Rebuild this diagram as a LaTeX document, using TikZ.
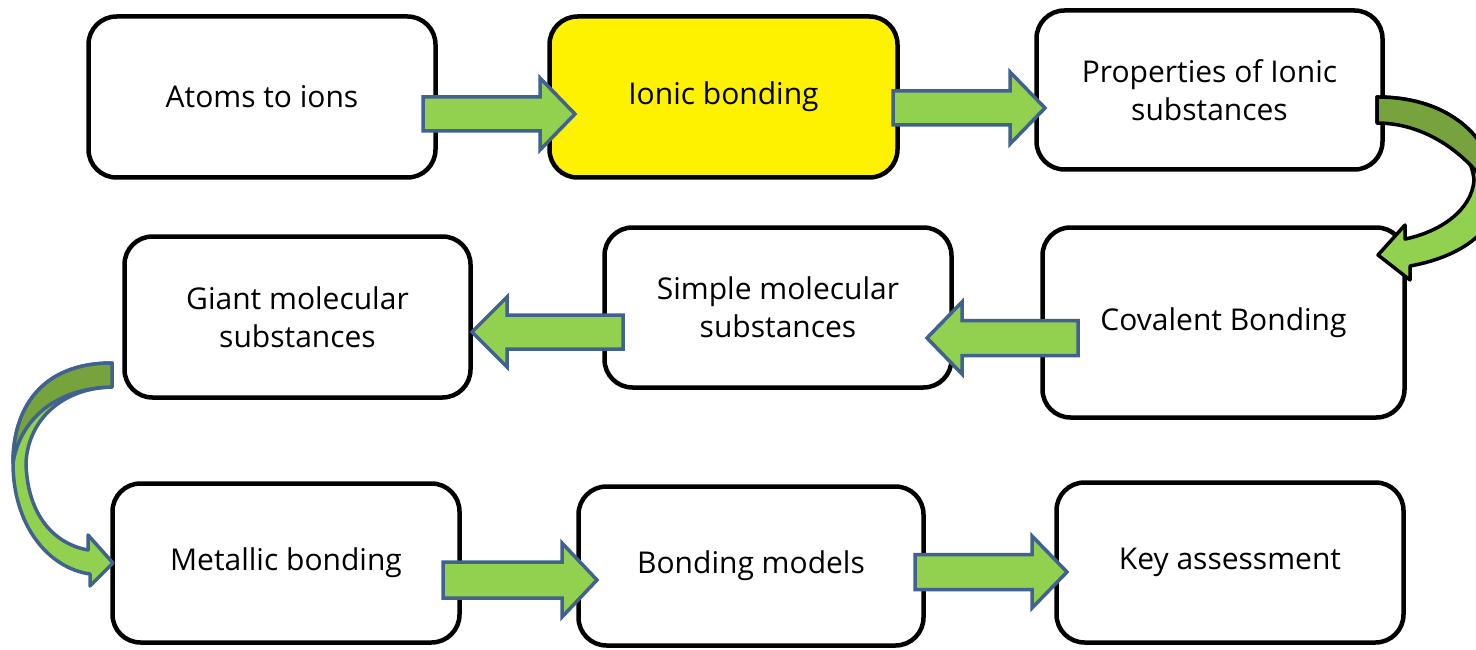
\documentclass[tikz,border=0pt]{standalone}
\usepackage{fontspec}
\setmainfont{Open Sans}
\definecolor{agreen}{HTML}{92D050}
\definecolor{dgreen}{HTML}{77A33F}
\definecolor{ablue}{HTML}{41618F}
\newcommand\blockarr[6]{\draw[barrow] (#1,#4-#5) -- (#2,#4-#5) -- (#2,#4-#6) -- (#3,#4) -- (#2,#4+#6) -- (#2,#4+#5) -- (#1,#4+#5) -- cycle;}
\begin{document}
\begin{tikzpicture}[x=1pt,y=-1pt,
 box/.style={draw=black, line width=4.5pt, rounded corners=28pt, fill=white, align=center,
   font=\fontsize{30}{38}\selectfont, inner sep=0pt},
 barrow/.style={draw=ablue, line width=3.5pt, fill=agreen, line join=miter},
 curvb/.style={draw=black, line width=3.5pt, line join=round},
 curvl/.style={draw=ablue, line width=3.5pt, line join=round}]
\useasboundingbox[fill=white] (0,0) rectangle (1476,650);
\node[box, minimum width=347pt, minimum height=161pt] (atoms) at (262,97) {Atoms to ions};
\node[box, fill=yellow, minimum width=348pt, minimum height=161pt] (ionic) at (723.5,97) {Ionic bonding};
\node[box, minimum width=346pt, minimum height=159pt] (props) at (1209.5,90) {Properties of Ionic\\substances};
\node[box, minimum width=362pt, minimum height=190pt] (coval) at (1223.5,322.5) {Covalent Bonding};
\node[box, minimum width=347pt, minimum height=160pt] (simple) at (778,307.5) {Simple molecular\\substances};
\node[box, minimum width=346pt, minimum height=161pt] (giant) at (297.5,317) {Giant molecular\\substances};
\node[box, minimum width=347pt, minimum height=159pt] (metal) at (286,563) {Metallic bonding};
\node[box, minimum width=345pt, minimum height=159pt] (models) at (751,566) {Bonding models};
\node[box, minimum width=347pt, minimum height=160pt] (key) at (1230,562.5) {Key assessment};
% straight block arrows
\blockarr{423}{540}{575}{114}{17}{36}
\blockarr{893}{1010}{1045}{108}{17}{36}
\blockarr{1078}{962}{927}{338}{17.5}{36}
\blockarr{623}{507}{472}{332}{17}{35}
\blockarr{443}{562}{597}{580}{18}{37}
\blockarr{915}{1032}{1067}{572}{17.5}{36}
% curved arrow right (props -> covalent)
\path[curvb, fill=agreen] (1377,97) .. controls (1460,97) and (1500,150) .. (1496,200)
  .. controls (1494,235) and (1455,258) .. (1410,266)
  -- (1410,280) -- (1378,255) -- (1405,225) -- (1405,239)
  .. controls (1440,232) and (1472,210) .. (1474,180)
  .. controls (1470,140) and (1430,123) .. (1377,123) -- cycle;
\path[curvb, fill=dgreen] (1377,97) .. controls (1460,97) and (1500,150) .. (1496,200)
  .. controls (1475,160) and (1430,123) .. (1377,123) -- cycle;
% curved arrow left (giant -> metallic)
\path[curvl, fill=agreen] (112,363) .. controls (40,363) and (13,410) .. (13,463)
  .. controls (13,525) and (48,568) .. (90,574)
  -- (90,586) -- (113,563) -- (88,535) -- (88,550)
  .. controls (50,543) and (27,510) .. (26,463)
  .. controls (28,420) and (62,388) .. (112,387) -- cycle;
\path[curvl, fill=dgreen] (112,363) .. controls (40,363) and (13,410) .. (13,463)
  .. controls (20,420) and (55,388) .. (112,387) -- cycle;
\end{tikzpicture}
\end{document}
